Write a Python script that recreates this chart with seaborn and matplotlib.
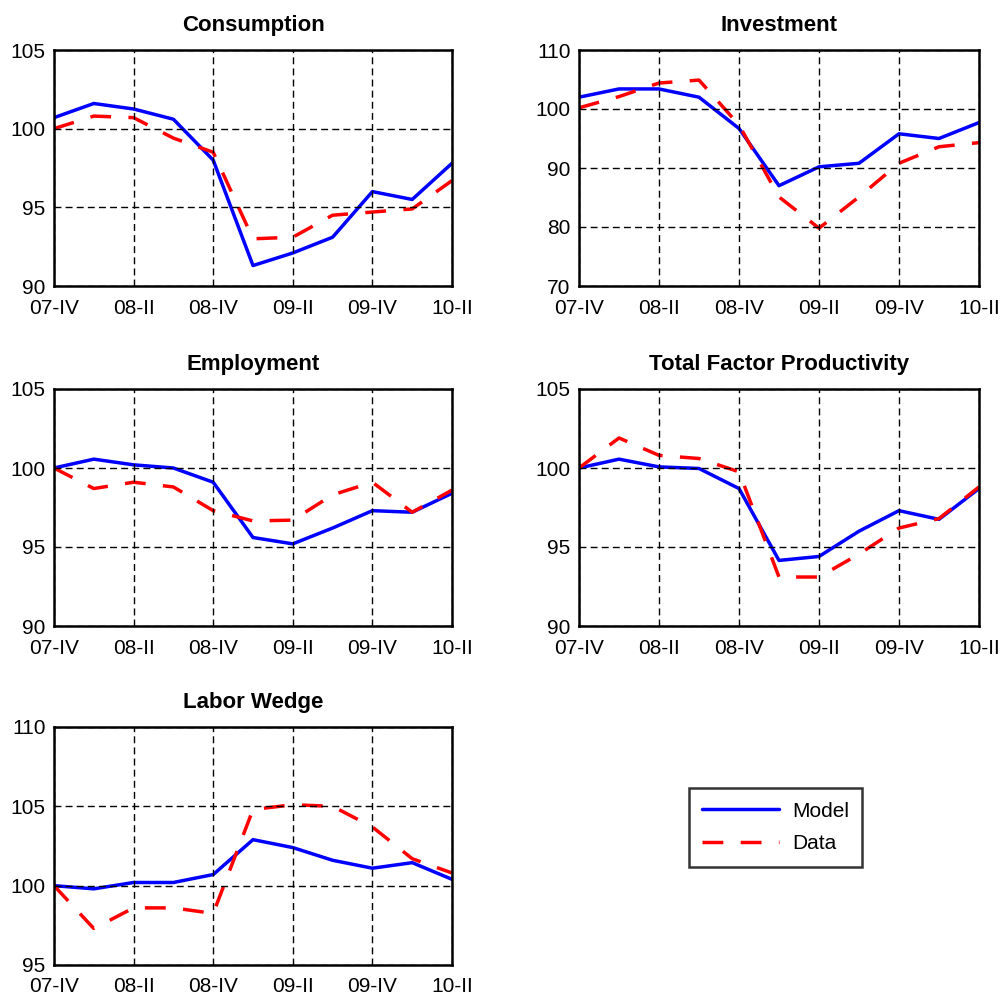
import numpy as np
import matplotlib
matplotlib.use("Agg")
import matplotlib.pyplot as plt
import seaborn as sns

# quarters 07-IV .. 10-II
quarters = ["07-IV", "08-I", "08-II", "08-III", "08-IV", "09-I",
            "09-II", "09-III", "09-IV", "10-I", "10-II"]
tick_labels = ["07-IV", "08-II", "08-IV", "09-II", "09-IV", "10-II"]

cons_model = [100.7, 101.6, 101.25, 100.6, 98.0, 91.3, 92.1, 93.1, 96.0, 95.5, 97.8]
cons_data = [100.0, 100.8, 100.7, 99.4, 98.5, 93.0, 93.1, 94.5, 94.7, 94.9, 96.7]

inv_model = [102.0, 103.4, 103.4, 102.0, 96.7, 87.0, 90.2, 90.8, 95.8, 95.0, 97.7]
inv_data = [100.2, 102.1, 104.4, 104.9, 97.3, 85.1, 79.8, 85.1, 90.8, 93.6, 94.3]

emp_model = [100.0, 100.56, 100.2, 100.0, 99.1, 95.6, 95.2, 96.2, 97.3, 97.2, 98.4]
emp_data = [100.0, 98.7, 99.1, 98.8, 97.3, 96.65, 96.7, 98.3, 99.1, 97.2, 98.6]

tfp_model = [100.0, 100.56, 100.07, 99.97, 98.7, 94.15, 94.4, 96.0, 97.3, 96.75, 98.7]
tfp_data = [100.0, 101.9, 100.8, 100.6, 99.76, 93.1, 93.1, 94.55, 96.2, 96.8, 98.8]

lw_model = [100.0, 99.8, 100.2, 100.2, 100.7, 102.9, 102.4, 101.6, 101.1, 101.45, 100.4]
lw_data = [100.0, 97.3, 98.6, 98.6, 98.25, 104.8, 105.1, 105.0, 103.7, 101.7, 100.8]

panels = [
    ("Consumption", cons_model, cons_data, (90, 105), [90, 95, 100, 105]),
    ("Investment", inv_model, inv_data, (70, 110), [70, 80, 90, 100, 110]),
    ("Employment", emp_model, emp_data, (90, 105), [90, 95, 100, 105]),
    ("Total Factor Productivity", tfp_model, tfp_data, (90, 105), [90, 95, 100, 105]),
    ("Labor Wedge", lw_model, lw_data, (95, 110), [95, 100, 105, 110]),
]

# axes rectangles (pixels: left, top, right, bottom)
W, H = 1005, 999
boxes = [
    (54, 50, 452, 286), (579, 50, 979, 286),
    (54, 389, 452, 626), (579, 389, 979, 626),
    (54, 727, 452, 965),
]

sns.set_style("white")
plt.rcParams["font.family"] = ["Liberation Sans", "DejaVu Sans"]
plt.rcParams["text.color"] = "black"

fig = plt.figure(figsize=(W / 100, H / 100), dpi=100)
x = np.arange(len(quarters))

for (title, model, data, ylim, yticks), (l, t, r, b) in zip(panels, boxes):
    ax = fig.add_axes([l / W, 1 - b / H, (r - l) / W, (b - t) / H])
    sns.lineplot(x=x, y=model, ax=ax, color="#0000ff", lw=2.5, label="Model")
    sns.lineplot(x=x, y=data, ax=ax, color="#ff0000", lw=2.5,
                 linestyle=(0, (6, 5)), label="Data")
    ax.set_xlim(0, 10)
    ax.set_ylim(*ylim)
    ax.set_xticks(range(0, 11, 2))
    ax.set_xticklabels(tick_labels)
    ax.set_yticks(yticks)
    ax.grid(True, color="black", linestyle=(0, (5, 3)), lw=1.0)
    ax.set_axisbelow(False)
    for sp in ax.spines.values():
        sp.set_visible(True)
        sp.set_color("black")
        sp.set_linewidth(1.8)
    ax.tick_params(length=0, labelsize=15, colors="black")
    ax.tick_params(axis="x", pad=9)
    ax.tick_params(axis="y", pad=6)
    ax.set_title(title, fontsize=16, fontweight="bold", pad=14, color="black")
    ax.get_legend().remove()

handles, labels = ax.get_legend_handles_labels()
leg = fig.legend(handles, labels, loc="center", bbox_to_anchor=(775.5 / W, 1 - 827.5 / H),
                 fontsize=15, handlelength=3.7, frameon=True, fancybox=False,
                 borderpad=0.65, labelspacing=0.65, handletextpad=0.6)
leg.get_frame().set_edgecolor("black")
leg.get_frame().set_linewidth(1.8)
for txt in leg.get_texts():
    txt.set_color("black")

fig.savefig("out.png", dpi=100)
